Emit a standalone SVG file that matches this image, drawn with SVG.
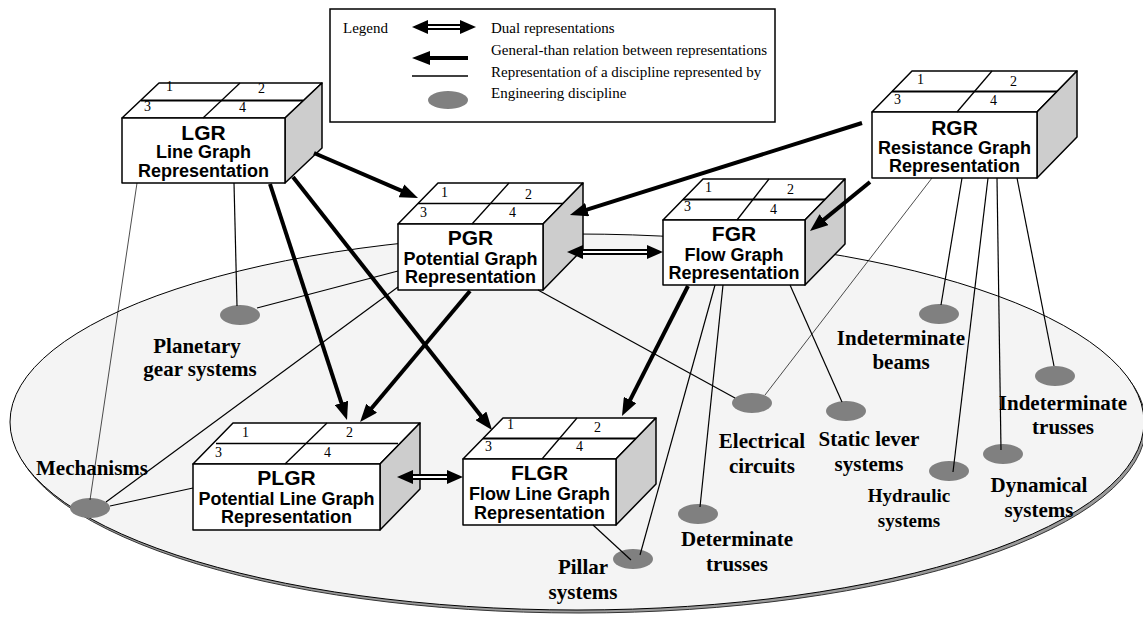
<svg xmlns="http://www.w3.org/2000/svg" width="1143" height="621" viewBox="0 0 1143 621">
<style>
.face{fill:#fff;stroke:#000;stroke-width:1.5;stroke-linejoin:round}
.side{fill:#cdcdcd;stroke:#000;stroke-width:1.5;stroke-linejoin:round}
.div{stroke:#000;stroke-width:1.3;fill:none}
.mid{stroke:#000;stroke-width:2;fill:none}
.num{font-family:"Liberation Serif",serif;font-size:14px;fill:#000}
.t1{font-family:"Liberation Sans",Arial,sans-serif;font-weight:bold;font-size:21px;text-anchor:middle}
.t2{font-family:"Liberation Sans",Arial,sans-serif;font-weight:bold;font-size:18px;text-anchor:middle}
.lab{font-family:"Liberation Serif",serif;font-weight:bold;font-size:21px;text-anchor:middle}
.leg{font-family:"Liberation Serif",serif;font-size:15px}
.disc{fill:#808080}
.thin{stroke:#000;stroke-width:1.2;fill:none}
.hair{stroke:#000;stroke-width:0.7;fill:none}
.thick{stroke:#000;stroke-width:4;fill:none;marker-end:url(#ah)}
</style>
<defs>
<marker id="ah" markerUnits="userSpaceOnUse" markerWidth="18" markerHeight="14" refX="6" refY="7" orient="auto">
<path d="M0,0 L18,7 L0,14 z" fill="#000"/>
</marker>
</defs>
<g id="plane">
<ellipse cx="579" cy="425" rx="567" ry="188" fill="#9a9a9a" stroke="#333" stroke-width="1"/>
<ellipse cx="577" cy="422" rx="567" ry="188" fill="#f4f4f4" stroke="#000" stroke-width="1"/>
</g>
<g id="legend">
<rect x="330" y="9" width="445" height="113" fill="#fff" stroke="#000" stroke-width="1.5"/>
<text class="leg" x="343" y="33">Legend</text>
<line x1="424" y1="27" x2="464" y2="27" stroke="#000" stroke-width="6"/>
<line x1="424" y1="27" x2="464" y2="27" stroke="#fff" stroke-width="2"/>
<polygon points="412,27 428,20 428,34" fill="#000"/>
<polygon points="476,27 460,20 460,34" fill="#000"/>
<text class="leg" x="491" y="33">Dual representations</text>
<line x1="468" y1="58" x2="424" y2="58" class="thick"/>
<text class="leg" x="491" y="55">General-than relation between representations</text>
<line x1="412" y1="76" x2="468" y2="76" stroke="#000" stroke-width="1.5"/>
<text class="leg" x="491" y="77">Representation of a discipline represented by</text>
<ellipse class="disc" cx="448" cy="100" rx="20" ry="9"/>
<text class="leg" x="491" y="98">Engineering discipline</text>
</g>
<g id="disciplines">
<ellipse class="disc" cx="240" cy="315" rx="20" ry="10"/>
<text class="lab" x="197" y="353">Planetary</text>
<text class="lab" x="200" y="376">gear systems</text>
<ellipse class="disc" cx="90" cy="508" rx="20" ry="10"/>
<text class="lab" x="92" y="475">Mechanisms</text>
<ellipse class="disc" cx="633" cy="559" rx="20" ry="10"/>
<text class="lab" x="583" y="574">Pillar</text>
<text class="lab" x="583" y="599">systems</text>
<ellipse class="disc" cx="698" cy="514" rx="20" ry="10"/>
<text class="lab" x="737" y="546">Determinate</text>
<text class="lab" x="737" y="571">trusses</text>
<ellipse class="disc" cx="752" cy="403" rx="20" ry="10"/>
<text class="lab" x="762" y="448">Electrical</text>
<text class="lab" x="762" y="473">circuits</text>
<ellipse class="disc" cx="846" cy="411" rx="20" ry="10"/>
<text class="lab" x="869" y="446">Static lever</text>
<text class="lab" x="869" y="471">systems</text>
<ellipse class="disc" cx="939" cy="314" rx="20" ry="10"/>
<text class="lab" x="901" y="345">Indeterminate</text>
<text class="lab" x="901" y="369">beams</text>
<ellipse class="disc" cx="1055" cy="376" rx="20" ry="10"/>
<text class="lab" x="1063" y="410">Indeterminate</text>
<text class="lab" x="1063" y="434">trusses</text>
<ellipse class="disc" cx="949" cy="471" rx="20" ry="10"/>
<text class="lab" x="909" y="502" style="font-size:19px">Hydraulic</text>
<text class="lab" x="909" y="527" style="font-size:19px">systems</text>
<ellipse class="disc" cx="1003" cy="454" rx="20" ry="10"/>
<text class="lab" x="1039" y="492">Dynamical</text>
<text class="lab" x="1039" y="517">systems</text>
</g>
<g id="LGR">
<polygon class="face" points="122,118 285,118 322,83 159,83"/>
<polygon class="side" points="285,118 322,83 322,148 285,183"/>
<rect class="face" x="122" y="118" width="163" height="65"/>
<line class="mid" x1="141" y1="100.5" x2="303" y2="100.5"/>
<line class="div" x1="203" y1="118" x2="240" y2="83"/>
<text class="num" x="166" y="91">1</text><text class="num" x="258" y="93">2</text>
<text class="num" x="144" y="111">3</text><text class="num" x="239" y="112">4</text>
<text class="t1" x="203.5" y="140">LGR</text>
<text class="t2" x="203.5" y="158">Line Graph</text>
<text class="t2" x="203.5" y="177">Representation</text>
</g>
<g id="PGR">
<polygon class="face" points="398,224 543,224 583,183 438,183"/>
<polygon class="side" points="543,224 583,183 583,249 543,290"/>
<rect class="face" x="398" y="224" width="145" height="66"/>
<line class="div" x1="418" y1="203.5" x2="563" y2="203.5"/>
<line class="div" x1="472" y1="224" x2="509" y2="183"/>
<text class="num" x="441" y="197">1</text><text class="num" x="525" y="199">2</text>
<text class="num" x="420" y="217">3</text><text class="num" x="509" y="217">4</text>
<text class="t1" x="470.5" y="245">PGR</text>
<text class="t2" x="470.5" y="265">Potential Graph</text>
<text class="t2" x="470.5" y="283">Representation</text>
</g>
<g id="FGR">
<polygon class="face" points="663,220 805,220 845,179 703,179"/>
<polygon class="side" points="805,220 845,179 845,244 805,285"/>
<rect class="face" x="663" y="220" width="142" height="65"/>
<line class="mid" x1="683" y1="199.5" x2="825" y2="199.5"/>
<line class="div" x1="737" y1="220" x2="769" y2="179"/>
<text class="num" x="705" y="192">1</text><text class="num" x="787" y="194">2</text>
<text class="num" x="684" y="211">3</text><text class="num" x="770" y="214">4</text>
<text class="t1" x="734" y="241">FGR</text>
<text class="t2" x="734" y="261">Flow Graph</text>
<text class="t2" x="734" y="279">Representation</text>
</g>
<g id="RGR">
<polygon class="face" points="872,112 1037,112 1077,71 912,71"/>
<polygon class="side" points="1037,112 1077,71 1077,137 1037,178"/>
<rect class="face" x="872" y="112" width="165" height="66"/>
<line class="mid" x1="892" y1="91.5" x2="1057" y2="91.5"/>
<line class="div" x1="957" y1="112" x2="992" y2="71"/>
<text class="num" x="917" y="84">1</text><text class="num" x="1010" y="86">2</text>
<text class="num" x="894" y="104">3</text><text class="num" x="990" y="105">4</text>
<text class="t1" x="954.5" y="135">RGR</text>
<text class="t2" x="954.5" y="154">Resistance Graph</text>
<text class="t2" x="954.5" y="172">Representation</text>
</g>
<g id="PLGR">
<polygon class="face" points="193,464 380,464 420,423 233,423"/>
<polygon class="side" points="380,464 420,423 420,489 380,530"/>
<rect class="face" x="193" y="464" width="187" height="66"/>
<line class="div" x1="216" y1="443.5" x2="398" y2="443.5"/>
<line class="div" x1="285" y1="464" x2="327" y2="423"/>
<text class="num" x="242" y="437">1</text><text class="num" x="346" y="437">2</text>
<text class="num" x="215" y="457">3</text><text class="num" x="324" y="457">4</text>
<text class="t1" x="286.5" y="485">PLGR</text>
<text class="t2" x="286.5" y="505">Potential Line Graph</text>
<text class="t2" x="286.5" y="523">Representation</text>
</g>
<g id="FLGR">
<polygon class="face" points="463,459 616,459 656,418 503,418"/>
<polygon class="side" points="616,459 656,418 656,484 616,525"/>
<rect class="face" x="463" y="459" width="153" height="66"/>
<line class="mid" x1="483" y1="438.5" x2="636" y2="438.5"/>
<line class="div" x1="542" y1="459" x2="577" y2="418"/>
<text class="num" x="507" y="429">1</text><text class="num" x="594" y="432">2</text>
<text class="num" x="485" y="451">3</text><text class="num" x="576" y="451">4</text>
<text class="t1" x="539.5" y="480">FLGR</text>
<text class="t2" x="539.5" y="500">Flow Line Graph</text>
<text class="t2" x="539.5" y="519">Representation</text>
</g>
<g id="connectors">
<line class="hair" x1="137" y1="183" x2="90" y2="500"/>
<line class="thin" x1="234" y1="183" x2="237" y2="306"/>
<line class="thin" x1="398" y1="271" x2="257" y2="308"/>
<line class="thin" x1="398" y1="287" x2="106" y2="502"/>
<line class="thin" x1="193" y1="488" x2="110" y2="506"/>
<line class="thin" x1="538" y1="290" x2="735" y2="398"/>
<line class="hair" x1="932" y1="178" x2="765" y2="395"/>
<line class="thin" x1="715" y1="285" x2="640" y2="555"/>
<line class="thin" x1="723" y1="285" x2="700" y2="507"/>
<line class="thin" x1="790" y1="285" x2="842" y2="402"/>
<line class="thin" x1="593" y1="525" x2="631" y2="560"/>
<line class="thin" x1="962" y1="178" x2="941" y2="305"/>
<line class="thin" x1="988" y1="178" x2="953" y2="472"/>
<line class="thin" x1="997" y1="178" x2="1001" y2="450"/>
<line class="thin" x1="1017" y1="178" x2="1054" y2="366"/>
<line class="thick" x1="314" y1="153" x2="407" y2="193.2"/>
<line class="thick" x1="270" y1="184" x2="343.3" y2="408.6"/>
<line class="thick" x1="293" y1="177" x2="484.6" y2="420.6"/>
<line class="thick" x1="470" y1="291" x2="367.8" y2="412.8"/>
<line class="thick" x1="688" y1="286" x2="627.4" y2="405.3"/>
<line class="thick" x1="862" y1="123" x2="581.4" y2="211.4"/>
<line class="thick" x1="870" y1="182" x2="819.3" y2="223.4"/>
<g id="dual-pgr-fgr">
<line x1="580" y1="252" x2="650" y2="252" stroke="#000" stroke-width="6"/>
<line x1="580" y1="252" x2="650" y2="252" stroke="#fff" stroke-width="2"/>
<polygon points="567,252 583,245 583,259" fill="#000"/>
<polygon points="663,252 647,245 647,259" fill="#000"/>
</g>
<g id="dual-plgr-flgr">
<line x1="410" y1="477" x2="450" y2="477" stroke="#000" stroke-width="6"/>
<line x1="410" y1="477" x2="450" y2="477" stroke="#fff" stroke-width="2"/>
<polygon points="397,477 413,470 413,484" fill="#000"/>
<polygon points="463,477 447,470 447,484" fill="#000"/>
</g>
</g>
</svg>
